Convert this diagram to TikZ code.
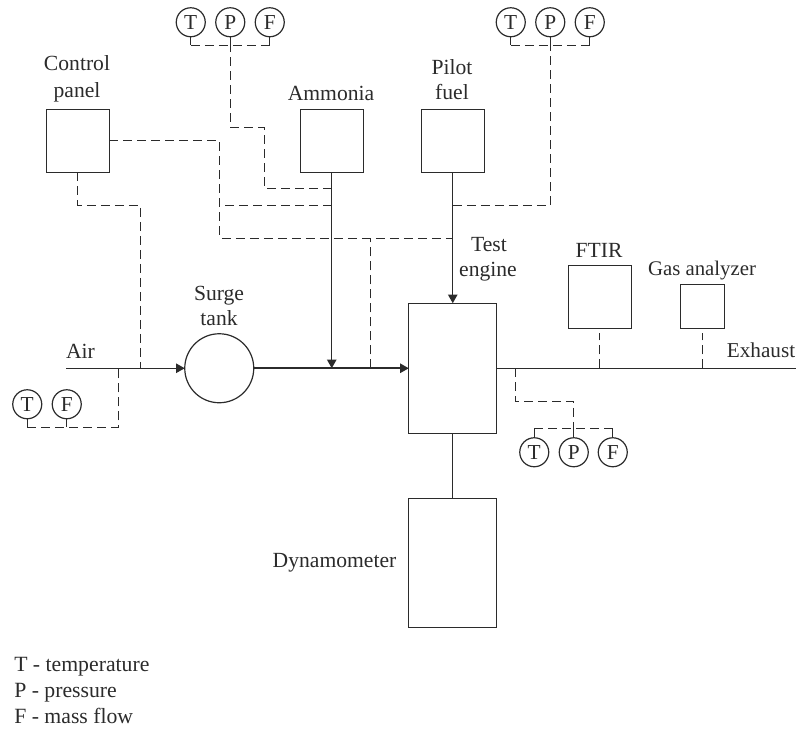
\documentclass[tikz,border=0pt]{standalone}
\usepackage{fontspec}
\setmainfont{Liberation Serif}
\usetikzlibrary{arrows.meta}
\definecolor{ink}{HTML}{2B2B2B}
\tikzset{
  box/.style={draw=ink,line width=1.1pt,inner sep=0pt,outer sep=0pt,rectangle},
  gauge/.style={draw=ink,line width=.9pt,circle,inner sep=0pt,outer sep=0pt,minimum size=21.75pt,text=ink,font=\fontsize{16}{16}\selectfont},
  lbl/.style={text=ink,font=\fontsize{16.2}{16.2}\selectfont,inner sep=0pt,anchor=base},
  leg/.style={text=ink,font=\fontsize{16.3}{16.3}\selectfont,inner sep=0pt,anchor=base west},
  solid line/.style={draw=ink,line width=1.1pt},
  stub/.style={draw=ink,line width=1pt},
  dsh/.style={draw=ink,line width=1.05pt,dash pattern=on 6.75pt off 3.75pt},
  tip/.style={-{Triangle[length=6.5pt,width=7pt]}}
}
\begin{document}
\begin{tikzpicture}[x=.75pt,y=-.75pt]
\useasboundingbox (0,0) rectangle (796,729);
\begin{scope}[shift={(.25,.25)}]
% boxes
\node[box,minimum width=47.25pt,minimum height=47.25pt] (panel) at (77.5,140.5) {};
\node[box,minimum width=47.25pt,minimum height=47.25pt] (ammonia) at (331.5,140.5) {};
\node[box,minimum width=47.25pt,minimum height=47.25pt] (pilot) at (452.5,140.5) {};
\node[box,minimum width=66pt,minimum height=97.5pt] (engine) at (452.5,368) {};
\node[box,minimum width=66pt,minimum height=96.75pt] (dyno) at (452.5,562.5) {};
\node[box,minimum width=47.25pt,minimum height=47.25pt] (ftir) at (599.5,296.5) {};
\node[box,minimum width=33pt,minimum height=33pt] (gas) at (702,306) {};
\node[draw=ink,line width=.9pt,circle,inner sep=0pt,outer sep=0pt,minimum size=51.75pt] (surge) at (219,368) {};
% gauges
\node[gauge] (t1) at (190.5,22) {T};
\node[gauge] (p1) at (230,22) {P};
\node[gauge] (f1) at (269.5,22) {F};
\node[gauge] (t2) at (510.5,22) {T};
\node[gauge] (p2) at (550,22) {P};
\node[gauge] (f2) at (589.5,22) {F};
\node[gauge] (t3) at (27,404) {T};
\node[gauge] (f3) at (66.5,404) {F};
\node[gauge] (t4) at (534,452) {T};
\node[gauge] (p4) at (573.5,452) {P};
\node[gauge] (f4) at (612.5,452) {F};
% junction coordinates
\coordinate (airstart) at (66,368);
\coordinate (exhaustend) at (796,368);
\coordinate (amjoin) at (331.5,368);
\coordinate (a1) at (190.5,45);
\coordinate (a2) at (269.5,45);
\coordinate (a3) at (230,45);
\coordinate (a4) at (230,127);
\coordinate (a5) at (264,127);
\coordinate (a6) at (264,188);
\coordinate (a7) at (331.5,188);
\coordinate (b1) at (510.5,45);
\coordinate (b2) at (589.5,45);
\coordinate (b3) at (550,45);
\coordinate (b4) at (550,205);
\coordinate (b5) at (452.5,205);
\coordinate (c1) at (219.5,140.5);
\coordinate (c2) at (219.5,238);
\coordinate (c3) at (452.5,238);
\coordinate (c4) at (219.5,205);
\coordinate (c5) at (331.5,205);
\coordinate (c6) at (370,238);
\coordinate (c7) at (370,368);
\coordinate (d1) at (77.5,205);
\coordinate (d2) at (140,205);
\coordinate (d3) at (140,368);
\coordinate (e1) at (66.5,427);
\coordinate (e2) at (27,427);
\coordinate (e3) at (118,427);
\coordinate (e4) at (118,368);
\coordinate (f5) at (515,368);
\coordinate (f6) at (515,401);
\coordinate (f7) at (573.5,401);
\coordinate (f8) at (573.5,428.5);
\coordinate (f9) at (534,428.5);
\coordinate (f10) at (612.5,428.5);
\coordinate (g1) at (599.5,333);
\coordinate (g2) at (599.5,368);
\coordinate (g3) at (702,333);
\coordinate (g4) at (702,368);
% solid connectors
\draw[solid line,tip] (airstart) -- (surge.west);
\draw[solid line,line width=1.3pt,tip] (surge.east) -- (engine.west);
\draw[solid line] (engine.east) -- (exhaustend);
\draw[solid line,tip] (ammonia.south) -- (amjoin);
\draw[solid line,tip] (pilot.south) -- (engine.north);
\draw[solid line] (engine.south) -- (dyno.north);
% gauge stubs
\draw[stub] (t1.south) -- (a1);
\draw[stub] (p1.south) -- (a3);
\draw[stub] (f1.south) -- (a2);
\draw[stub] (t2.south) -- (b1);
\draw[stub] (p2.south) -- (b3);
\draw[stub] (f2.south) -- (b2);
\draw[stub] (t3.south) -- (e2);
\draw[stub] (f3.south) -- (e1);
\draw[stub] (t4.north) -- (f9);
\draw[stub] (p4.north) -- (f8);
\draw[stub] (f4.north) -- (f10);
% dashed connectors
\draw[dsh] (a1) -- (a2);
\draw[dsh] (a7) -- (a6) -- (a5) -- (a4) -- (a3);
\draw[dsh] (b1) -- (b2);
\draw[dsh] (b5) -- (b4) -- (b3);
\draw[dsh] (panel.east) -- (c1) -- (c2) -- (c3);
\draw[dsh] (c5) -- (c4);
\draw[dsh] (c7) -- (c6);
\draw[dsh] (panel.south) -- (d1) -- (d2) -- (d3);
\draw[dsh] (e2) -- (e3) -- (e4);
\draw[dsh] (f5) -- (f6) -- (f7) -- (f8);
\draw[dsh] (f9) -- (f10);
\draw[dsh] (g2) -- (g1);
\draw[dsh] (g4) -- (g3);
\end{scope}
% labels
\node[lbl] (l1) at (77,70.5) {Control};
\node[lbl] (l2) at (77,97) {panel};
\node[lbl] (l3) at (331,100) {Ammonia};
\node[lbl] (l4) at (452,74) {Pilot};
\node[lbl] (l5) at (452,99) {fuel};
\node[lbl] (l6) at (489,251) {Test};
\node[lbl] (l7) at (488,276.5) {engine};
\node[lbl] (l8) at (599,257) {FTIR};
\node[lbl,font=\fontsize{15.6}{15.6}\selectfont] (l9) at (702,275) {Gas analyzer};
\node[lbl,font=\fontsize{15.9}{15.9}\selectfont] (l10) at (761,357.5) {Exhaust};
\node[lbl] (l11) at (80.5,358) {Air};
\node[lbl] (l12) at (219,300) {Surge};
\node[lbl] (l13) at (219,325) {tank};
\node[lbl] (l14) at (334.5,567) {Dynamometer};
\node[leg] (k1) at (14,671) {T - temperature};
\node[leg] (k2) at (14,697) {P - pressure};
\node[leg] (k3) at (14,723) {F - mass flow};
\end{tikzpicture}
\end{document}
